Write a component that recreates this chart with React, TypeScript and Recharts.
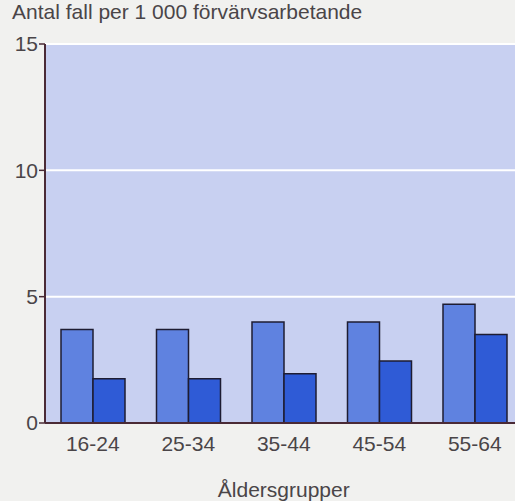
import React from 'react';
import { BarChart, Bar, XAxis, YAxis, CartesianGrid } from 'recharts';

const categories = ['16-24', '25-34', '35-44', '45-54', '55-64'];
const seriesA = [3.7, 3.7, 4.0, 4.0, 4.7];
const seriesB = [1.75, 1.75, 1.95, 2.45, 3.5];
const yTicks = [0, 5, 10, 15];

const data = categories.map((c, i) => ({ name: c, a: seriesA[i], b: seriesB[i] }));

const font = '"Liberation Sans", Arial, sans-serif';
const textColor = '#4a4548';
const axisColor = '#4a2a36';

export default function App() {
  return (
    <div
      style={{
        position: 'fixed',
        left: 0,
        top: 0,
        width: 515,
        height: 501,
        overflow: 'hidden',
        background: '#f1f1ef',
        fontFamily: font,
      }}
    >
      <div
        style={{
          position: 'absolute',
          left: 12,
          top: 0,
          fontSize: 21,
          color: textColor,
          whiteSpace: 'nowrap',
        }}
      >
        Antal fall per 1 000 förvärvsarbetande
      </div>
      <BarChart
        width={530}
        height={501}
        data={data}
        margin={{ top: 44, right: 7.5, left: 0, bottom: 0 }}
        barGap={0}
        barSize={32}
      >
        <CartesianGrid vertical={false} stroke="#ffffff" strokeWidth={2} fill="#c8d0f1" />
        <XAxis
          dataKey="name"
          height={78}
          tickLine={false}
          tickSize={0}
          tickMargin={13}
          axisLine={{ stroke: axisColor, strokeWidth: 2 }}
          tick={{ fill: textColor, fontSize: 21, fontFamily: font }}
          label={{
            value: 'Åldersgrupper',
            position: 'insideBottom',
            offset: 4,
            fill: textColor,
            fontSize: 21,
            fontFamily: font,
          }}
        />
        <YAxis
          width={45}
          domain={[0, 15]}
          ticks={yTicks}
          interval={0}
          tickSize={6}
          tickMargin={1}
          axisLine={{ stroke: axisColor, strokeWidth: 2 }}
          tickLine={{ stroke: axisColor, strokeWidth: 1.5 }}
          tick={{ fill: textColor, fontSize: 21, fontFamily: font }}
        />
        <Bar dataKey="a" fill="#5f82e0" stroke="#1e1c32" strokeWidth={1.5} isAnimationActive={false} />
        <Bar dataKey="b" fill="#2f5bd6" stroke="#1e1c32" strokeWidth={1.5} isAnimationActive={false} />
      </BarChart>
    </div>
  );
}
